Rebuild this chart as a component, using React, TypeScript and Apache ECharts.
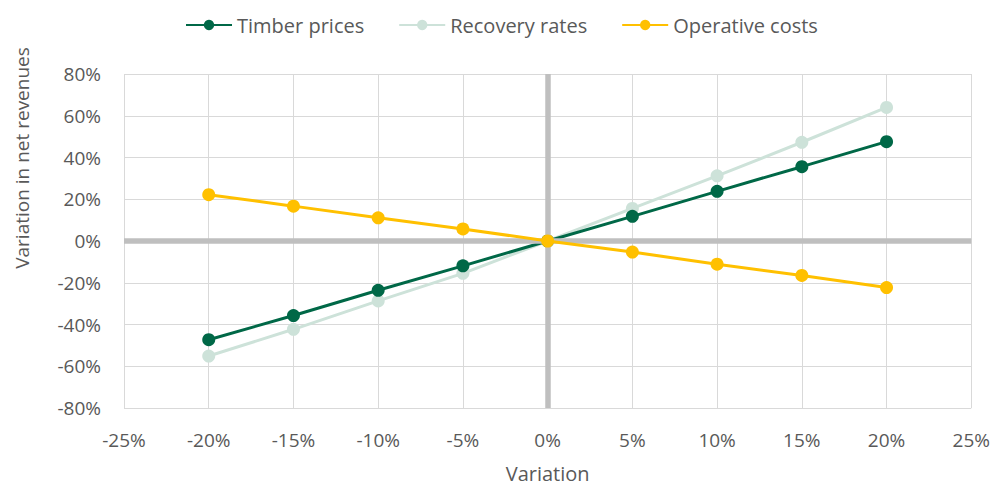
import React, { useEffect, useRef } from "react";
import * as echarts from "echarts";

const variations = [-20, -15, -10, -5, 0, 5, 10, 15, 20];
const timberPrices = [-47.3, -35.7, -23.6, -11.9, 0, 11.8, 23.8, 35.6, 47.6];
const recoveryRates = [-55.1, -42.3, -28.7, -15.5, 0, 15.6, 31.2, 47.3, 64.0];
const operativeCosts = [22.2, 16.7, 11.1, 5.8, 0, -5.3, -11.1, -16.5, -22.3];

const seriesNames = ["Timber prices", "Recovery rates", "Operative costs"];
const seriesColors = ["#006847", "#CDE2D9", "#FFC000"];

const FONT = "Open Sans";
const TEXT = "#595959";

export default function App() {
  const ref = useRef<HTMLDivElement>(null);
  useEffect(() => {
    if (!ref.current) return;
    const chart = echarts.init(ref.current, undefined, { renderer: "svg" });
    const pairs = (ys: number[]) => variations.map((x, i) => [x, ys[i]]);
    const datasets = [timberPrices, recoveryRates, operativeCosts];
    const zs = [4, 3, 5];
    chart.setOption({
      animation: false,
      backgroundColor: "#ffffff",
      textStyle: { fontFamily: FONT },
      grid: { left: 124, right: 21, top: 74, bottom: 76, containLabel: false },
      legend: {
        top: 10,
        left: 180,
        itemWidth: 46,
        itemHeight: 13,
        itemGap: 34,
        textStyle: { fontFamily: FONT, fontSize: 20, color: TEXT },
        data: seriesNames,
      },
      xAxis: {
        type: "value",
        min: -25,
        max: 25,
        interval: 5,
        name: "Variation",
        nameLocation: "middle",
        nameGap: 55,
        nameTextStyle: { fontFamily: FONT, fontSize: 20, color: TEXT },
        axisLine: { show: false, onZero: false },
        axisTick: { show: false },
        axisLabel: {
          margin: 22,
          fontFamily: FONT,
          fontSize: 19,
          color: TEXT,
          formatter: (v: number) => `${v}%`,
        },
        splitLine: { show: true, lineStyle: { color: "#D9D9D9", width: 1 } },
      },
      yAxis: {
        type: "value",
        min: -80,
        max: 80,
        interval: 20,
        axisLine: { show: false, onZero: false },
        axisTick: { show: false },
        axisLabel: {
          margin: 23,
          fontFamily: FONT,
          fontSize: 19,
          color: TEXT,
          formatter: (v: number) => `${v}%`,
        },
        splitLine: { show: true, lineStyle: { color: "#D9D9D9", width: 1 } },
      },
      graphic: [
        {
          type: "text",
          x: 22,
          y: 158,
          rotation: Math.PI / 2,
          style: {
            text: "Variation in net revenues",
            fill: TEXT,
            font: `19px "${FONT}"`,
            align: "center",
            verticalAlign: "middle",
          },
        },
      ],
      series: [
        {
          type: "line",
          name: "__zero",
          data: [],
          z: 1,
          silent: true,
          markLine: {
            silent: true,
            symbol: "none",
            label: { show: false },
            lineStyle: { color: "#BFBFBF", width: 5.5, type: "solid" },
            data: [{ xAxis: 0 }, { yAxis: 0 }],
          },
        },
        ...seriesNames.map((name, i) => ({
          type: "line",
          name,
          data: pairs(datasets[i]),
          z: zs[i],
          color: seriesColors[i],
          symbol: "circle",
          symbolSize: 13,
          showSymbol: true,
          lineStyle: { width: 3, color: seriesColors[i] },
          itemStyle: { color: seriesColors[i] },
          emphasis: { disabled: true },
        })),
      ],
    });
    return () => chart.dispose();
  }, []);
  return (
    <div
      ref={ref}
      style={{ position: "absolute", left: 0, top: 0, width: 993, height: 488 }}
    />
  );
}
